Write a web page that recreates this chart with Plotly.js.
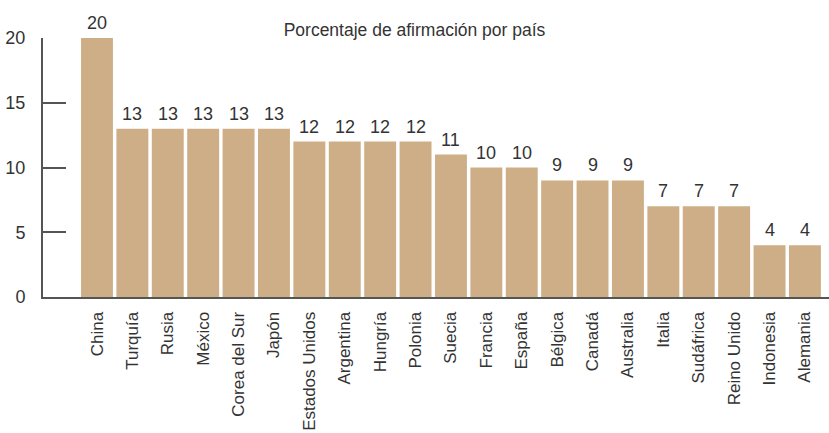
<!DOCTYPE html>
<html><head><meta charset="utf-8">
<script src="https://cdn.plot.ly/plotly-3.0.1.min.js"></script>
<style>body{margin:0;padding:0;background:#fff}</style>
</head><body>
<div id="chart" style="width:829px;height:433px"></div>
<script>
const paises = ["China","Turquía","Rusia","México","Corea del Sur","Japón","Estados Unidos","Argentina","Hungría","Polonia","Suecia","Francia","España","Bélgica","Canadá","Australia","Italia","Sudáfrica","Reino Unido","Indonesia","Alemania"];
const valores = [20,13,13,13,13,13,12,12,12,12,11,10,10,9,9,9,7,7,7,4,4];
const yTicks = [0,5,10,15,20];
const titulo = "Porcentaje de afirmación por país";

const fam = '"Liberation Sans",Arial,sans-serif';
const trace = {
  type: 'bar', x: paises, y: valores,
  marker: {color: '#CEAE86'},
  hoverinfo: 'none'
};
const etiquetas = paises.map((p, i) => ({
  x: p, y: valores[i], xref: 'x', yref: 'y', text: String(valores[i]),
  showarrow: false, yanchor: 'bottom', yshift: 3,
  font: {family: fam, size: 18, color: '#333'}
}));
const layout = {
  width: 829, height: 433,
  margin: {l: 43, r: 0, t: 38, b: 136},
  paper_bgcolor: '#fff', plot_bgcolor: '#fff',
  bargap: 0.098, showlegend: false,
  annotations: etiquetas,
  title: {text: titulo, x: 0.5, xanchor: 'center', y: 0.93, yanchor: 'middle',
          font: {family: fam, size: 17.5, color: '#333'}},
  xaxis: {type: 'category', range: [-1.525, 20.68], showgrid: false, zeroline: false,
          showline: true, linecolor: '#555', linewidth: 2, ticks: '', tickangle: -90,
          ticklabelstandoff: 6, tickfont: {family: fam, size: 17, color: '#333'}, fixedrange: true},
  yaxis: {range: [0, 20], tickvals: yTicks, showgrid: false, zeroline: false,
          showline: true, linecolor: '#555', linewidth: 2, ticks: 'inside', ticklen: 23,
          tickcolor: '#555', tickwidth: 2, ticklabelstandoff: 12,
          tickfont: {family: fam, size: 18, color: '#333'}, fixedrange: true}
};
Plotly.newPlot('chart', [trace], layout, {displayModeBar: false, staticPlot: true});
</script>
</body></html>
